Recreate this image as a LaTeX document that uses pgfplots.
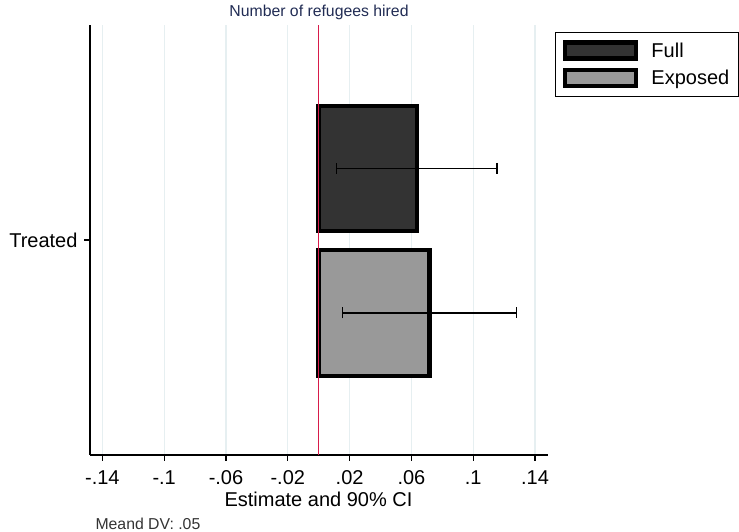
\documentclass[border=0pt]{standalone}
\usepackage{fontspec}
\setmainfont{Liberation Sans}
\usepackage{pgfplots}
\pgfplotsset{compat=1.18}

\definecolor{fullfill}{HTML}{333333}
\definecolor{expfill}{HTML}{999999}
\definecolor{zeroline}{HTML}{D81B4A}
\definecolor{gridc}{HTML}{E6EFF1}
\definecolor{titlec}{HTML}{212C54}

\newcommand{\bigfont}{\fontsize{20bp}{23bp}\selectfont}
\newcommand{\smallfont}{\fontsize{15.8bp}{19bp}\selectfont}

\begin{document}
\begin{tikzpicture}[x=1bp,y=1bp]
\useasboundingbox (0,0) rectangle (739,532);
\begin{axis}[
  at={(90bp,77bp)}, anchor=south west,
  scale only axis, width=457.7bp, height=430bp,
  xmin=-0.148, xmax=0.1482, ymin=-215, ymax=215,
  axis x line*=bottom, axis y line*=left,
  axis line style={line width=1.2bp, -},
  xtick={-0.14,-0.1,-0.06,-0.02,0.02,0.06,0.1,0.14},
  xticklabels={{-.14},{-.1},{-.06},{-.02},{.02},{.06},{.1},{.14}},
  ytick={0}, yticklabels={Treated},
  tick align=outside, major tick length=6bp,
  tick style={line width=1.2bp, black},
  xmajorgrids, grid style={gridc, line width=1.3bp},
  ticklabel style={font=\bigfont},
  xticklabel style={yshift=-6bp},
  yticklabel style={xshift=-3bp},
  legend style={at={(1.016,0.984)}, anchor=north west, draw=black,
    line width=0.9bp, font=\bigfont, inner xsep=7.5bp, inner ysep=8bp,
    row sep=7bp, cells={anchor=west},
    /tikz/every odd column/.append style={column sep=11bp}},
  legend cell align=left,
  legend image code/.code={\draw[#1, line width=4.5bp] (0bp,-8bp) rectangle (71bp,8bp);},
]
% point estimates with 90% confidence intervals
\addplot[xbar, bar width=125, bar shift=0, fill=fullfill, draw=black, line width=4.5bp,
  error bars/.cd, x dir=both, x explicit,
  error bar style={line width=1.3bp, black},
  error mark=|, error mark options={line width=1.3bp, mark size=5.5bp, black}]
  coordinates {(0.0635,71.5) +- (0.0519,0)};
\addlegendentry{Full}
\addplot[xbar, bar width=126, bar shift=0, fill=expfill, draw=black, line width=4.5bp,
  error bars/.cd, x dir=both, x explicit,
  error bar style={line width=1.3bp, black},
  error mark=|, error mark options={line width=1.3bp, mark size=5.5bp, black}]
  coordinates {(0.0718,-73) +- (0.0563,0)};
\addlegendentry{Exposed}
% reference line at zero
\addplot[zeroline, line width=1.3bp, forget plot] coordinates {(0,-215) (0,215)};
\end{axis}
\node[anchor=base, font=\smallfont, text=titlec] at (319,515) {Number of refugees hired};
\node[anchor=base, font=\bigfont] at (318.5,25.5) {Estimate and 90\% CI};
\node[anchor=base west, font=\smallfont, text=black!80] at (92,2) {Meand DV: .05};
\end{tikzpicture}
\end{document}
